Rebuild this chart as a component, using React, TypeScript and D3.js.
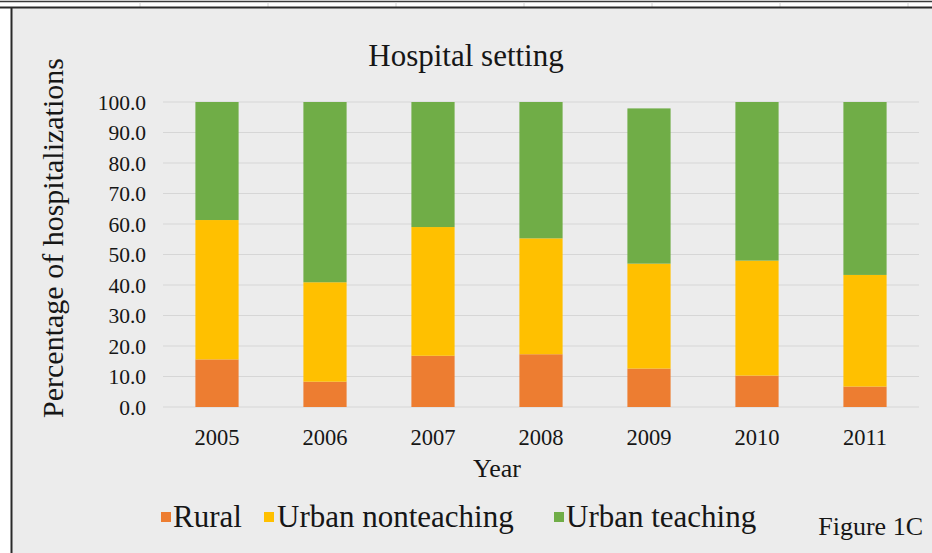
import React from "react";
import * as d3 from "d3";

// Share of hospitalizations by hospital setting, 2005–2011 (percent)
const years = ["2005", "2006", "2007", "2008", "2009", "2010", "2011"];
const rural = [15.6, 8.3, 16.8, 17.3, 12.6, 10.3, 6.7];
const urbanNonteaching = [45.7, 32.6, 42.2, 38.0, 34.4, 37.7, 36.6];
const urbanTeaching = [38.7, 59.1, 41.0, 44.7, 50.9, 52.0, 56.7];
const seriesNames = ["Rural", "Urban nonteaching", "Urban teaching"];
const seriesColors = ["#ed7d31", "#ffc000", "#70ad47"];
const yTicks = [0, 10, 20, 30, 40, 50, 60, 70, 80, 90, 100];

const W = 932;
const H = 553;
const FONT = "'Liberation Serif', 'Times New Roman', serif";
const INK = "#161616";

export default function App() {
  const rows = years.map((year, i) => ({
    year,
    Rural: rural[i],
    "Urban nonteaching": urbanNonteaching[i],
    "Urban teaching": urbanTeaching[i],
  }));

  const x = d3
    .scaleBand<string>()
    .domain(years)
    .range([163, 919])
    .paddingInner(0.6)
    .paddingOuter(0.3);
  const y = d3.scaleLinear().domain([0, 100]).range([407, 102]);

  const stacked = d3.stack<any>().keys(seriesNames)(rows);

  // legend layout: swatch x, label x
  const legendItems = [
    { sx: 161, tx: 173 },
    { sx: 264, tx: 277 },
    { sx: 554, tx: 566 },
  ];

  // spreadsheet cell separators above the chart frame
  const cellLines = [140, 268, 396, 524, 652, 780, 908];

  return (
    <svg
      width={W}
      height={H}
      style={{ position: "absolute", left: 0, top: 0, display: "block" }}
      fontFamily={FONT}
    >
      <rect x={0} y={0} width={W} height={H} fill="#ffffff" />
      {/* chart area */}
      <rect x={12} y={8} width={W - 12} height={H - 8} fill="#ececec" />
      {/* sheet strip at top */}
      <line x1={0} x2={W} y1={1.5} y2={1.5} stroke="#3a3a3a" strokeWidth={1.5} />
      {cellLines.map((cx) => (
        <line key={cx} x1={cx} x2={cx} y1={2} y2={7} stroke="#d4d4d4" strokeWidth={1} />
      ))}
      <line x1={0} x2={W} y1={7.5} y2={7.5} stroke="#2a2a2a" strokeWidth={2} />
      <line x1={11.5} x2={11.5} y1={7} y2={H} stroke="#2a2a2a" strokeWidth={2} />

      {/* title */}
      <text x={466} y={66} textAnchor="middle" fontSize={31} fill={INK} fontFamily={FONT}>
        Hospital setting
      </text>

      {/* gridlines */}
      {yTicks.map((t) => (
        <line
          key={t}
          x1={163}
          x2={919}
          y1={y(t)}
          y2={y(t)}
          stroke="#d6d6d6"
          strokeWidth={1.2}
        />
      ))}

      {/* y tick labels */}
      {yTicks.map((t) => (
        <text
          key={t}
          x={146}
          y={y(t)}
          dy="0.35em"
          textAnchor="end"
          fontSize={21.5}
          fill={INK}
          fontFamily={FONT}
        >
          {t.toFixed(1)}
        </text>
      ))}

      {/* stacked bars */}
      {stacked.map((layer, si) => (
        <g key={layer.key} fill={seriesColors[si]}>
          {layer.map((d, i) => (
            <rect
              key={years[i]}
              x={x(years[i])}
              y={y(d[1])}
              width={x.bandwidth()}
              height={y(d[0]) - y(d[1])}
            />
          ))}
        </g>
      ))}

      {/* x tick labels */}
      {years.map((yr) => (
        <text
          key={yr}
          x={(x(yr) ?? 0) + x.bandwidth() / 2}
          y={445}
          textAnchor="middle"
          fontSize={22.5}
          fill={INK}
          fontFamily={FONT}
        >
          {yr}
        </text>
      ))}

      {/* axis titles */}
      <text x={497} y={477} textAnchor="middle" fontSize={26} fill={INK} fontFamily={FONT}>
        Year
      </text>
      <text
        transform={`translate(63, 238) rotate(-90)`}
        textAnchor="middle"
        fontSize={30}
        fill={INK}
        fontFamily={FONT}
      >
        Percentage of hospitalizations
      </text>

      {/* legend */}
      {seriesNames.map((name, i) => (
        <g key={name}>
          <rect x={legendItems[i].sx} y={512} width={10} height={10} fill={seriesColors[i]} />
          <text x={legendItems[i].tx} y={527} fontSize={31} fill={INK} fontFamily={FONT}>
            {name}
          </text>
        </g>
      ))}

      <text x={923} y={535} textAnchor="end" fontSize={26} fill={INK} fontFamily={FONT}>
        Figure 1C
      </text>
    </svg>
  );
}
